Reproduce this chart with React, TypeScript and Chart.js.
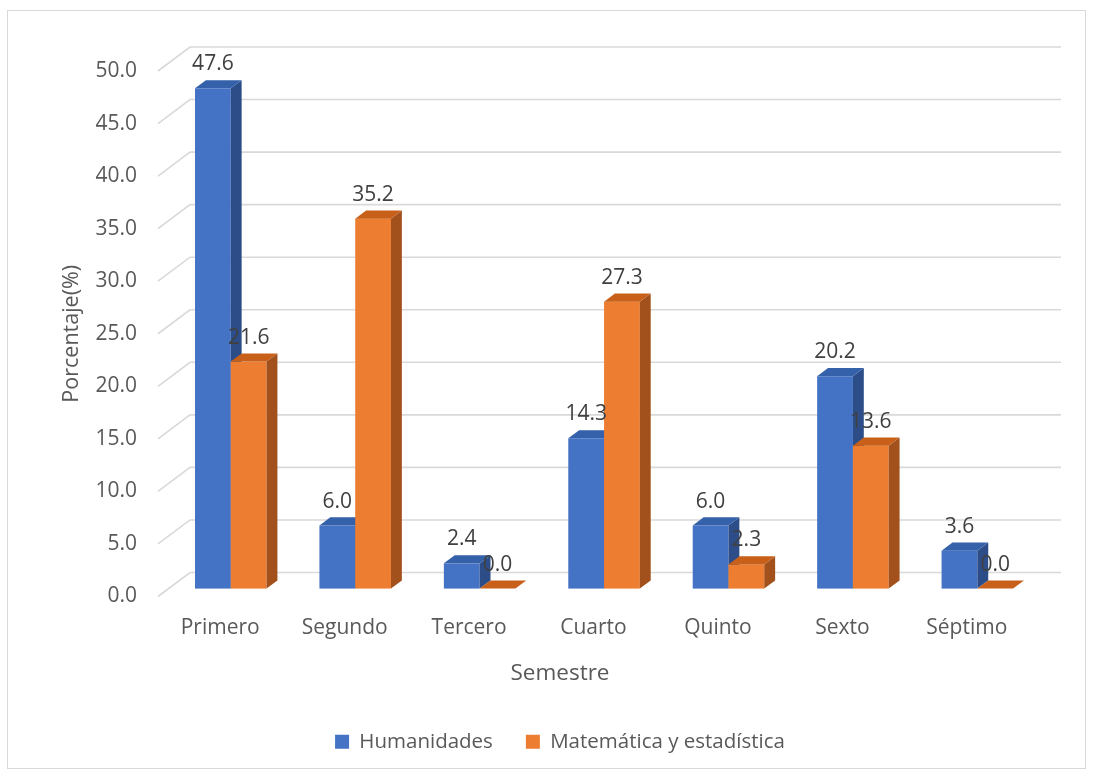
import React, { useEffect, useRef } from 'react';
import { Chart, registerables } from 'chart.js';

Chart.register(...registerables);

const categories = ['Primero', 'Segundo', 'Tercero', 'Cuarto', 'Quinto', 'Sexto', 'Séptimo'];
const humanidades = [47.6, 6.0, 2.4, 14.3, 6.0, 20.2, 3.6];
const matematica = [21.6, 35.2, 0.0, 27.3, 2.3, 13.6, 0.0];
const seriesNames = ['Humanidades', 'Matemática y estadística'];
const yMin = 0;
const yMax = 50;
const yStep = 5;
const xTitle = 'Semestre';
const yTitle = 'Porcentaje(%)';

const FONT = "'Open Sans', 'Noto Sans', sans-serif";
const WALL_DX = 32;
const WALL_DY = -24;
const BAR_F0 = 0.33;
const BAR_F1 = 0.67;
const faceColors = [
  { front: '#4472C4', side: '#2C4D88', top: '#3461AA' },
  { front: '#ED7D31', side: '#A2501C', top: '#C8601A' },
];

const threeD = {
  id: 'threeD',
  beforeDraw(chart: any) {
    const { ctx } = chart;
    ctx.save();
    ctx.fillStyle = '#ffffff';
    ctx.fillRect(0, 0, chart.width, chart.height);
    ctx.strokeStyle = '#d9d9d9';
    ctx.lineWidth = 1;
    ctx.strokeRect(7.5, 10.5, 1078, 758);
    ctx.restore();
  },
  beforeDatasetsDraw(chart: any) {
    const { ctx, chartArea, scales } = chart;
    const ys = scales.y;
    ctx.save();
    ctx.strokeStyle = '#d9d9d9';
    ctx.lineWidth = 1.6;
    ys.ticks.forEach((t: any) => {
      const py = ys.getPixelForValue(t.value);
      ctx.beginPath();
      ctx.moveTo(chartArea.left, py);
      ctx.lineTo(chartArea.left + WALL_DX, py + WALL_DY);
      ctx.lineTo(chartArea.right + WALL_DX, py + WALL_DY);
      ctx.stroke();
    });

    const metas = chart.data.datasets.map((_: any, i: number) => chart.getDatasetMeta(i));
    const ox = WALL_DX * BAR_F0;
    const oy = WALL_DY * BAR_F0;
    const dx = WALL_DX * (BAR_F1 - BAR_F0);
    const dy = WALL_DY * (BAR_F1 - BAR_F0);
    const labels: any[] = [];
    for (let j = 0; j < categories.length; j++) {
      metas.forEach((meta: any, i: number) => {
        const el = meta.data[j];
        if (!el) return;
        const p = el.getProps(['x', 'y', 'base', 'width'], true);
        const x0 = p.x - p.width / 2 + ox;
        const x1 = p.x + p.width / 2 + ox;
        const top = p.y + oy;
        const bot = p.base + oy;
        const c = faceColors[i];
        ctx.fillStyle = c.front;
        ctx.fillRect(x0, top, x1 - x0, bot - top);
        ctx.fillStyle = c.side;
        ctx.beginPath();
        ctx.moveTo(x1, top);
        ctx.lineTo(x1 + dx, top + dy);
        ctx.lineTo(x1 + dx, bot + dy);
        ctx.lineTo(x1, bot);
        ctx.closePath();
        ctx.fill();
        ctx.fillStyle = c.top;
        ctx.beginPath();
        ctx.moveTo(x0, top);
        ctx.lineTo(x1, top);
        ctx.lineTo(x1 + dx, top + dy);
        ctx.lineTo(x0 + dx, top + dy);
        ctx.closePath();
        ctx.fill();
        const v = chart.data.datasets[i].data[j];
        labels.push({ x: (x0 + x1) / 2, y: top - 18, text: Number(v).toFixed(1) });
      });
    }
    ctx.fillStyle = '#404040';
    ctx.font = `21px ${FONT}`;
    ctx.textAlign = 'center';
    ctx.textBaseline = 'alphabetic';
    labels.forEach((l) => ctx.fillText(l.text, l.x, l.y));
    ctx.restore();
    return false;
  },
};

export default function App() {
  const ref = useRef<HTMLCanvasElement>(null);
  useEffect(() => {
    if (!ref.current) return;
    const chart = new Chart(ref.current, {
      type: 'bar',
      data: {
        labels: categories,
        datasets: [
          { label: seriesNames[0], data: humanidades, backgroundColor: faceColors[0].front, borderWidth: 0 },
          { label: seriesNames[1], data: matematica, backgroundColor: faceColors[1].front, borderWidth: 0 },
        ],
      },
      options: {
        responsive: false,
        animation: false,
        devicePixelRatio: 1,
        datasets: { bar: { categoryPercentage: 0.575, barPercentage: 1 } },
        layout: { padding: { top: 71, left: 26, right: 0, bottom: 8 } },
        scales: {
          x: {
            grid: { display: false, drawTicks: false },
            border: { display: false },
            ticks: { color: '#595959', font: { family: FONT, size: 21 }, padding: 19, maxRotation: 0 },
            afterFit: (s: any) => { s.height = 58; },
          },
          y: {
            min: yMin,
            max: yMax,
            grid: { display: false, drawTicks: false },
            border: { display: false },
            ticks: {
              stepSize: yStep,
              color: '#595959',
              font: { family: FONT, size: 21 },
              padding: 21,
              callback: (v: any) => Number(v).toFixed(1),
            },
            title: {
              display: true,
              text: yTitle,
              color: '#595959',
              font: { family: FONT, size: 21.5 },
              padding: { top: 33, bottom: 0 },
            },
            afterFit: (s: any) => { s.width = 132; },
          },
          yR: {
            type: 'linear',
            position: 'right',
            display: true,
            grid: { display: false, drawTicks: false },
            border: { display: false },
            ticks: { display: false },
            afterFit: (s: any) => { s.width = 65; },
          },
        },
        plugins: {
          tooltip: { enabled: false },
          title: {
            display: true,
            text: xTitle,
            position: 'bottom',
            weight: 500,
            color: '#595959',
            font: { family: FONT, size: 22.5, weight: 'normal' },
            padding: { top: 6, bottom: 11 },
          },
          legend: {
            position: 'bottom',
            labels: {
              color: '#595959',
              font: { family: FONT, size: 20.5 },
              boxWidth: 14,
              boxHeight: 14,
              padding: 33,
            },
          },
        },
      },
      plugins: [threeD],
    } as any);
    return () => chart.destroy();
  }, []);
  return (
    <div style={{ position: 'absolute', left: 0, top: 0 }}>
      <canvas ref={ref} width={1094} height={770} style={{ display: 'block', width: 1094, height: 770 }} />
    </div>
  );
}
